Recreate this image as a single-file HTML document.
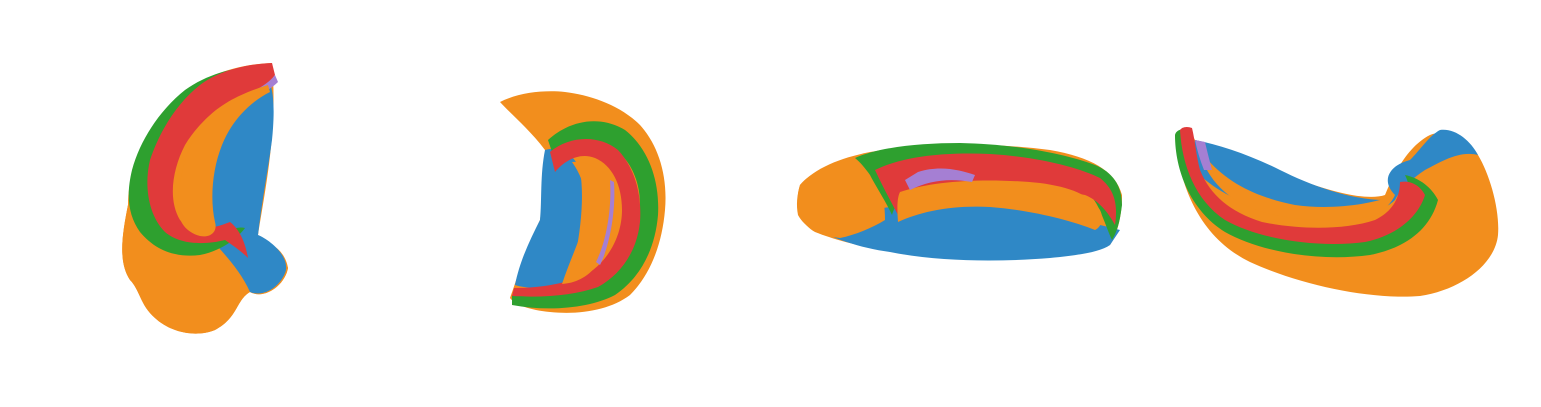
<!DOCTYPE html>
<html><head><meta charset="utf-8"><title>Surface views</title>
<style>
html,body{margin:0;padding:0;background:#fff;}
svg{display:block;}
</style></head>
<body>
<svg width="1541" height="407" viewBox="0 0 1541 407">
<!-- View 1 -->
<g>
  <path fill="#f28e1d" d="M272,63 C240,64 200,75 175,100 C145,130 128,170 128,205 C122,235 118,262 130,280 C140,290 140,305 155,318 C170,332 195,338 215,330 C238,318 236,300 250,292 C265,300 285,285 288,268 C282,250 265,240 258,235 C265,190 278,130 272,63 Z"/>
  <path fill="#f28e1d" d="M128,205 C122,235 118,262 130,280 C140,290 140,305 155,318 C170,332 195,338 215,330 C238,318 236,300 250,292 C265,300 285,285 288,268 C285,250 270,240 250,238 C230,236 215,245 200,250 L180,250 C160,240 140,225 128,205 Z"/>
  <path fill="#2f88c6" d="M262,72 C275,80 275,110 272,140 C268,170 262,200 258,235 C270,240 288,255 286,270 C282,285 265,298 250,292 C240,270 225,255 212,240 C205,200 212,160 225,120 C235,95 250,78 262,72 Z"/>
  <path fill="#2ea02f" d="M265,66 C240,66 210,72 185,90 C160,110 140,140 132,170 C126,195 128,215 140,232 C155,250 175,258 200,255 C225,250 240,235 245,228 C235,225 220,235 205,240 C185,240 170,232 162,210 C158,180 170,150 190,125 C210,100 240,85 265,80 Z"/>
  <path fill="#e03a3a" d="M272,63 C248,64 220,70 200,85 C178,102 160,130 150,160 C144,185 148,215 165,232 C180,245 205,245 225,240 C232,245 240,250 248,258 C245,240 238,228 230,222 C210,230 190,232 180,220 C168,200 172,170 185,145 C200,120 225,100 250,92 C262,88 270,82 275,75 Z"/>
  <path fill="#a57fd3" d="M275,75 C265,88 245,95 228,102 L232,108 C250,100 268,92 278,82 Z"/>
  <path fill="#f28e1d" d="M268,85 C245,92 222,102 205,120 C190,140 180,170 178,200 C176,220 185,232 200,236 C210,238 218,232 215,222 C210,200 212,170 222,145 C232,120 250,102 270,92 Z"/>
</g>
<!-- View 2 -->
<g>
  <path fill="#f28e1d" d="M500,102 C520,92 545,90 565,92 C590,95 620,105 640,125 C658,145 668,175 665,210 C662,245 650,275 630,295 C610,310 580,315 550,312 C530,310 515,305 510,298 C515,285 525,250 540,220 C545,190 548,160 545,150 C530,130 512,115 500,102 Z"/>
  <path fill="#2f88c6" d="M545,150 C560,145 575,155 580,170 C585,200 580,240 570,280 C555,288 530,290 515,285 C520,260 530,240 540,220 C542,200 540,175 545,150 Z"/>
  <path fill="#2ea02f" d="M548,140 C570,120 600,115 625,130 C648,148 660,180 658,215 C655,250 640,278 615,295 C590,308 550,312 512,305 L512,295 C545,298 580,293 603,280 C625,262 640,235 640,205 C640,178 628,155 608,145 C590,138 565,142 552,152 Z"/>
  <path fill="#e03a3a" d="M550,152 C570,135 600,135 618,150 C635,168 642,195 640,222 C637,252 620,275 598,287 C575,295 545,298 512,296 L514,288 C545,288 575,282 593,270 C612,255 622,232 622,210 C622,185 612,165 595,158 C580,152 565,160 555,172 Z"/>
  <path fill="#f28e1d" d="M572,162 C592,160 610,175 612,195 C615,222 608,248 597,265 C587,278 575,283 562,284 C570,260 580,240 585,220 C588,200 585,180 572,162 Z"/>
  <path fill="#a57fd3" d="M610,180 L614,182 C616,210 610,245 600,265 L596,262 C606,242 612,210 610,180 Z"/>
</g>
<!-- View 3 -->
<g>
  <path fill="#f28e1d" d="M800,185 C815,168 840,158 870,152 C920,143 990,142 1050,150 C1090,157 1115,170 1122,195 C1122,215 1118,232 1110,245 C1080,258 1000,262 940,258 C880,252 840,242 815,232 C797,222 795,200 800,185 Z"/>
  <path fill="#2f88c6" d="M810,225 C830,238 860,248 890,252 C940,262 1000,262 1050,258 C1080,255 1100,252 1110,245 L1120,230 C1090,222 1040,210 990,205 C940,200 900,205 870,210 C845,214 825,218 810,225 Z"/>
  <path fill="#f28e1d" d="M800,185 C810,172 835,162 860,160 C878,170 885,195 885,220 C872,228 855,235 840,238 C820,236 805,228 798,215 C796,205 797,195 800,185 Z"/>
  <path fill="#2ea02f" d="M855,158 C880,147 920,143 960,143 C1010,144 1060,152 1095,165 C1112,172 1122,185 1122,205 C1120,220 1118,230 1112,240 C1105,225 1100,205 1090,195 C1060,185 1010,180 960,180 C920,180 900,190 892,215 C885,200 875,185 870,175 C865,168 860,162 855,158 Z"/>
  <path fill="#e03a3a" d="M875,170 C905,155 950,152 990,154 C1040,157 1080,168 1100,178 C1115,190 1118,205 1115,225 C1108,212 1098,200 1085,195 C1050,188 1000,185 960,188 C930,190 910,200 898,215 C890,200 882,185 875,170 Z"/>
  <path fill="#f28e1d" d="M900,192 C935,180 990,178 1040,183 C1070,187 1090,195 1100,210 C1105,220 1100,228 1095,230 C1070,220 1030,210 990,207 C950,205 920,212 898,222 C897,208 897,198 900,192 Z"/>
  <path fill="#a57fd3" d="M905,180 L918,172 C940,165 960,170 975,175 L972,182 C950,178 930,180 910,190 Z"/>
</g>
<!-- View 4 -->
<g>
  <path fill="#f28e1d" d="M1175,135 C1180,128 1188,126 1195,140 C1230,148 1270,165 1300,180 C1340,195 1370,200 1385,195 C1395,170 1410,145 1430,135 C1445,128 1470,140 1478,155 C1490,175 1500,210 1498,235 C1495,265 1460,290 1420,296 C1370,300 1300,285 1250,262 C1205,240 1180,195 1175,135 Z"/>
  <path fill="#2f88c6" d="M1195,140 C1220,145 1250,155 1280,170 C1310,185 1350,200 1385,200 L1395,195 C1380,180 1390,165 1410,160 C1420,150 1430,135 1440,130 C1455,128 1470,140 1478,155 C1460,150 1440,162 1425,170 C1410,180 1400,190 1395,200 C1380,215 1340,222 1300,218 C1260,212 1220,195 1200,175 C1195,165 1193,150 1195,140 Z"/>
  <path fill="#2ea02f" d="M1175,135 C1175,170 1190,210 1225,232 C1260,252 1320,262 1370,255 C1405,248 1430,230 1438,200 C1432,188 1420,178 1405,175 C1410,185 1412,200 1405,210 C1390,225 1360,235 1320,235 C1280,235 1240,225 1215,205 C1198,188 1192,160 1188,130 C1182,128 1176,130 1175,135 Z"/>
  <path fill="#e03a3a" d="M1180,130 C1182,165 1195,200 1225,220 C1260,240 1320,248 1365,242 C1395,236 1418,218 1425,195 C1420,185 1410,180 1400,182 C1400,198 1392,212 1375,220 C1345,230 1300,230 1262,222 C1230,212 1210,195 1200,170 C1196,155 1195,140 1192,128 C1187,126 1182,127 1180,130 Z"/>
  <path fill="#f28e1d" d="M1203,162 C1215,190 1240,208 1275,215 C1310,222 1350,222 1375,215 C1385,210 1392,202 1395,195 C1370,205 1330,210 1295,205 C1260,198 1230,185 1208,160 Z"/>
  <path fill="#a57fd3" d="M1195,140 L1205,142 C1208,155 1210,162 1212,170 L1204,170 C1200,160 1197,150 1195,140 Z"/>
</g>
</svg>
</body></html>
